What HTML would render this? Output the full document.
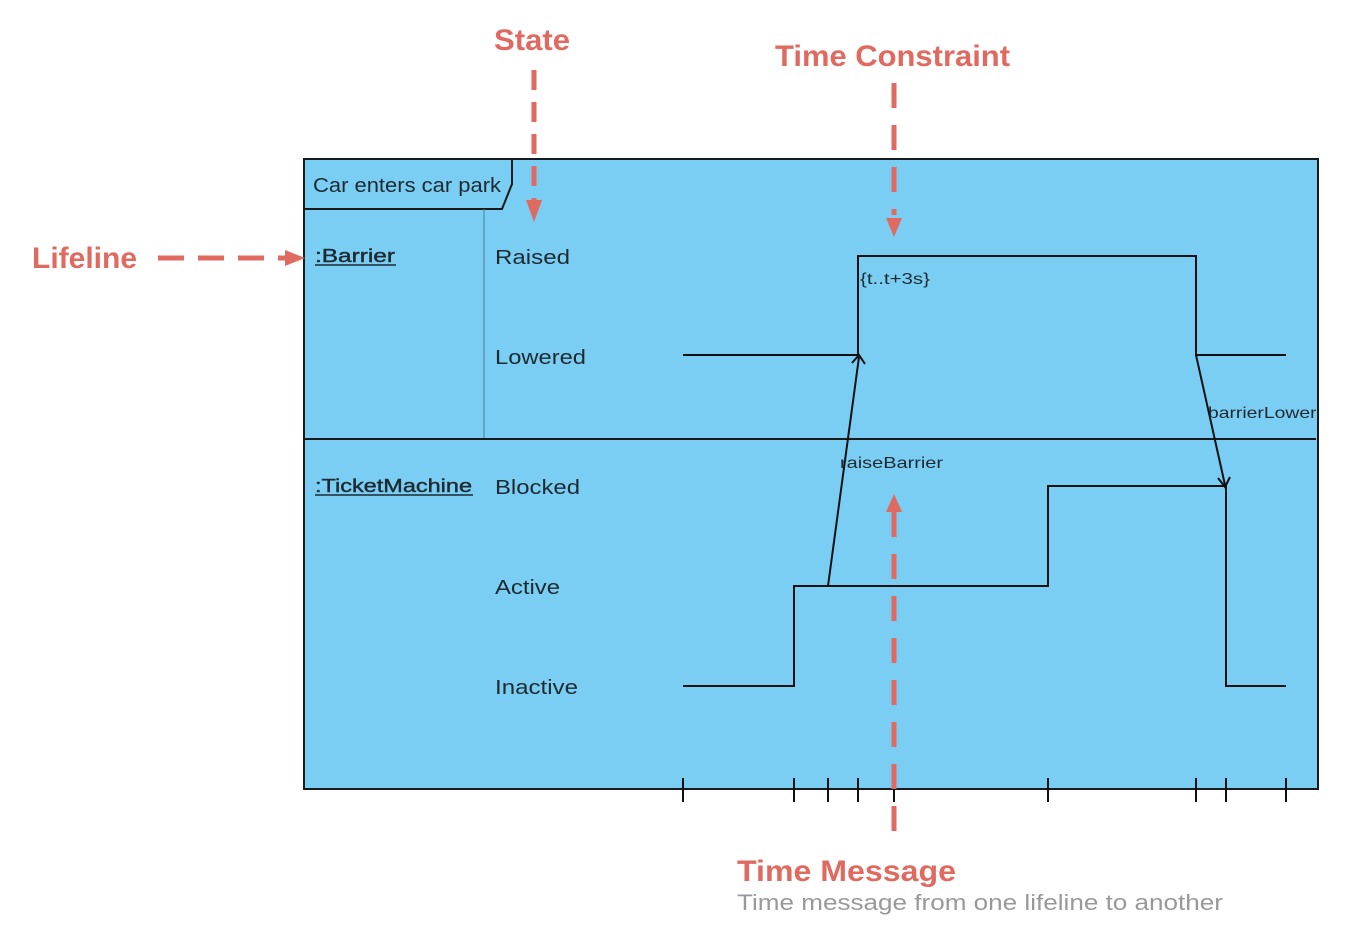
<!DOCTYPE html>
<html><head><meta charset="utf-8"><style>
html,body{margin:0;padding:0;background:#fff}
svg{display:block}
</style></head><body>
<svg width="1346" height="934" viewBox="0 0 1346 934" xmlns="http://www.w3.org/2000/svg" font-family="Liberation Sans, sans-serif">
<rect x="304" y="159" width="1014" height="630" fill="#7acef4" stroke="#1a1a1a" stroke-width="2"/>
<path d="M304 209 H502 L512 184 V159" fill="none" stroke="#1a1a1a" stroke-width="2"/>
<line x1="484" y1="209" x2="484" y2="439" stroke="#4a7a92" stroke-width="1"/>
<line x1="304" y1="439" x2="1316" y2="439" stroke="#1a1a1a" stroke-width="2"/>
<g font-size="20" fill="#1f2a30" lengthAdjust="spacingAndGlyphs">
<text x="313" y="192" textLength="188" lengthAdjust="spacingAndGlyphs">Car enters car park</text>
<text x="495" y="264" textLength="75" lengthAdjust="spacingAndGlyphs">Raised</text>
<text x="495" y="364" textLength="91" lengthAdjust="spacingAndGlyphs">Lowered</text>
<text x="495" y="494" textLength="85" lengthAdjust="spacingAndGlyphs">Blocked</text>
<text x="495" y="594" textLength="65" lengthAdjust="spacingAndGlyphs">Active</text>
<text x="495" y="694" textLength="83" lengthAdjust="spacingAndGlyphs">Inactive</text>
</g>
<g font-size="18" font-weight="bold" fill="#1f2a30">
<text x="315" y="262" textLength="80" lengthAdjust="spacingAndGlyphs" font-weight="normal" stroke="#1f2a30" stroke-width="0.4">:Barrier</text>
<text x="315" y="492" textLength="157" lengthAdjust="spacingAndGlyphs" font-weight="normal" stroke="#1f2a30" stroke-width="0.4">:TicketMachine</text>
</g>
<line x1="315" y1="265" x2="396" y2="265" stroke="#1f2a30" stroke-width="1.5"/>
<line x1="315" y1="495" x2="473" y2="495" stroke="#1f2a30" stroke-width="1.5"/>
<g fill="none" stroke="#111" stroke-width="2">
<path d="M683 355 H858 V256 H1196 V355 H1286"/>
<path d="M683 686 H794 V586 H1048 V486 H1226 V686 H1286"/>
<line x1="828" y1="586" x2="859" y2="357"/>
<path d="M852 363 L859 355 L865 364"/>
<line x1="1196" y1="355" x2="1225" y2="485"/>
<path d="M1218 478 L1225 487 L1230 477"/>
<line x1="683" y1="778" x2="683" y2="802"/><line x1="794" y1="778" x2="794" y2="802"/>
<line x1="828" y1="778" x2="828" y2="802"/><line x1="858" y1="778" x2="858" y2="802"/>
<line x1="894" y1="778" x2="894" y2="802"/><line x1="1048" y1="778" x2="1048" y2="802"/>
<line x1="1196" y1="778" x2="1196" y2="802"/><line x1="1226" y1="778" x2="1226" y2="802"/>
<line x1="1286" y1="778" x2="1286" y2="802"/>
</g>
<g font-size="16" fill="#1f2a30">
<text x="860" y="284" textLength="70" lengthAdjust="spacingAndGlyphs">{t..t+3s}</text>
<text x="840" y="468" textLength="103" lengthAdjust="spacingAndGlyphs">raiseBarrier</text>
<svg x="1208" y="398" width="108" height="30"><text x="0" y="20" font-size="16" fill="#1f2a30" textLength="130" lengthAdjust="spacingAndGlyphs">barrierLowered</text></svg>
</g>
<g stroke="#e06a60" stroke-width="5" fill="none">
<line x1="534" y1="70" x2="534" y2="200" stroke-dasharray="20 12"/>
<line x1="894" y1="83" x2="894" y2="215" stroke-dasharray="25 17"/>
<line x1="158" y1="258" x2="285" y2="258" stroke-dasharray="26 14"/>
<line x1="894" y1="512" x2="894" y2="838" stroke-dasharray="25 17"/>
</g>
<g fill="#e06a60">
<path d="M526 200 H542 L534 222 Z"/>
<path d="M886 218 H902 L894 237 Z"/>
<path d="M285 250 V266 L305 258 Z"/>
<path d="M886 512 H902 L894 494 Z"/>
</g>
<g font-weight="bold" fill="#e06a60" font-size="30">
<text x="494" y="50" textLength="76" lengthAdjust="spacingAndGlyphs">State</text>
<text x="775" y="66" textLength="235" lengthAdjust="spacingAndGlyphs">Time Constraint</text>
<text x="32" y="268" textLength="105" lengthAdjust="spacingAndGlyphs">Lifeline</text>
<text x="737" y="881" textLength="219" lengthAdjust="spacingAndGlyphs">Time Message</text>
</g>
<text x="737" y="910" font-size="22" fill="#999" textLength="486" lengthAdjust="spacingAndGlyphs">Time message from one lifeline to another</text>
</svg>
</body></html>
